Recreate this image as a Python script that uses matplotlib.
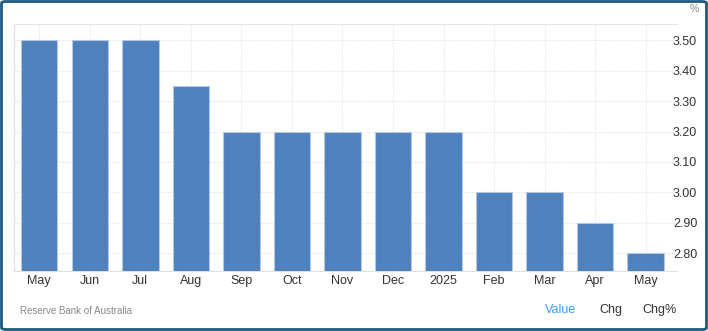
import matplotlib.pyplot as plt
from matplotlib.patches import FancyBboxPatch

plt.rcParams['font.family'] = ['Liberation Sans', 'DejaVu Sans']

# data
months = ['May', 'Jun', 'Jul', 'Aug', 'Sep', 'Oct', 'Nov', 'Dec', '2025', 'Feb', 'Mar', 'Apr', 'May']
rates = [3.50, 3.50, 3.50, 3.35, 3.20, 3.20, 3.20, 3.20, 3.20, 3.00, 3.00, 2.90, 2.80]
yticks = [2.80, 2.90, 3.00, 3.10, 3.20, 3.30, 3.40, 3.50]

W, H = 708, 331
fig = plt.figure(figsize=(W / 100, H / 100), dpi=100)

# axes placed in pixel terms; gridlines run a bit past the last bar
left, right, top, bottom = 14, 677, 24.3, 271
ax = fig.add_axes([left / W, 1 - bottom / H, (right - left) / W, (bottom - top) / H])

x = list(range(len(months)))
ax.bar(x, rates, width=0.72, color='#4f81bd', edgecolor='#b4c8e4', linewidth=0.8, zorder=3)

ax.set_xlim(-0.5, len(months) - 0.38)
ax.set_ylim(2.741, 3.553)
ax.set_xticks(x)
ax.set_xticklabels(months)
ax.set_yticks(yticks)
ax.set_yticklabels([f'{v:.2f}' for v in yticks])

ax.yaxis.tick_right()
ax.tick_params(axis='both', length=0, labelsize=9, colors='#333333')
ax.tick_params(axis='y', pad=-3)
ax.tick_params(axis='x', pad=3)

ax.grid(True, color='#e6e6e6', linestyle=(0, (1, 1)), linewidth=0.8, zorder=0)
ax.set_axisbelow(True)

ax.spines['right'].set_visible(False)
ax.spines['top'].set_color('#e6e6e6')
ax.spines['top'].set_linestyle((0, (1, 1)))
ax.spines['left'].set_color('#e0e0e0')
ax.spines['bottom'].set_color('#e0e0e0')

# extra texts
fig.text(690 / W, 1 - 9 / H, '%', fontsize=7.5, color='#888888', va='center', ha='left')
fig.text(20 / W, 1 - 311 / H, 'Reserve Bank of Australia', fontsize=7, color='#888888',
         va='center', ha='left')
fig.text(545 / W, 1 - 310 / H, 'Value', fontsize=9, color='#3a9bff', va='center', ha='left')
fig.text(599 / W, 1 - 310 / H, 'Chg', fontsize=9, color='#333333', va='center', ha='left')
fig.text(642 / W, 1 - 310 / H, 'Chg%', fontsize=9, color='#333333', va='center', ha='left')

# dark rounded frame
frame = FancyBboxPatch((1.5 / W, 1.5 / H), (W - 3) / W, (H - 3) / H,
                       boxstyle='round,pad=0,rounding_size=0.006',
                       transform=fig.transFigure, facecolor='none',
                       edgecolor='#1b5b7c', linewidth=2)
fig.patches.append(frame)

fig.savefig('out.png', dpi=100)
